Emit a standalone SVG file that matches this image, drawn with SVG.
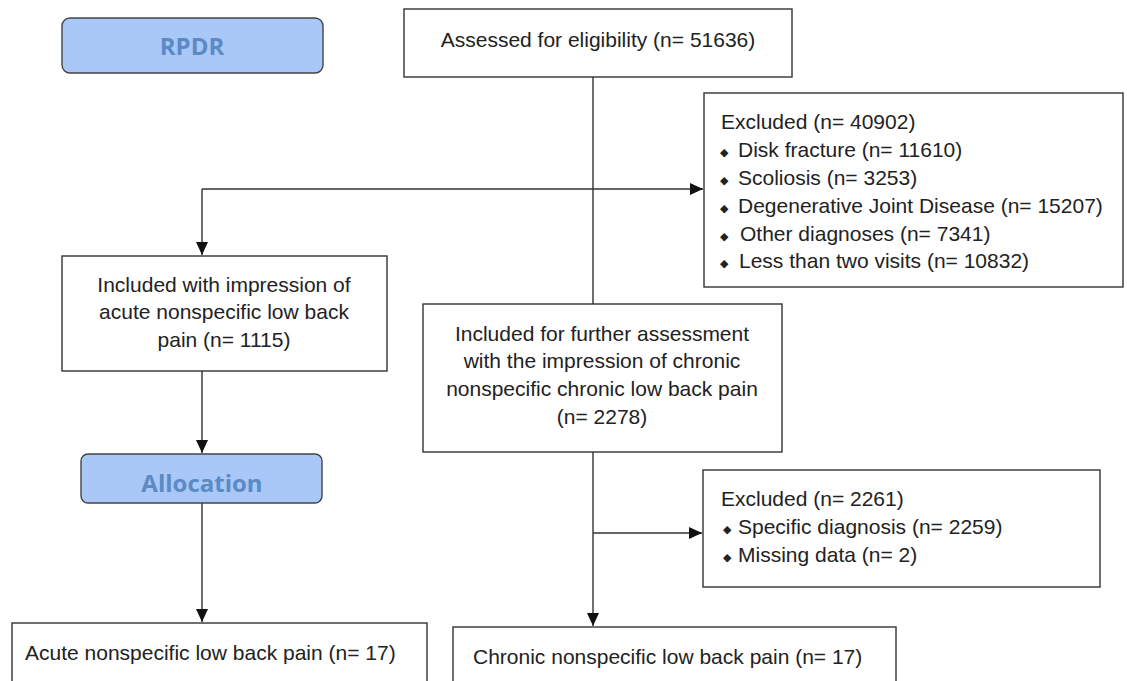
<svg xmlns="http://www.w3.org/2000/svg" width="1127" height="681" viewBox="0 0 1127 681">
<defs>
<marker id="arr" markerUnits="userSpaceOnUse" markerWidth="14" markerHeight="14" viewBox="0 0 14 14" refX="13" refY="7" orient="auto">
<path d="M0,1 L13,7 L0,13 Z" fill="#111"/>
</marker>
<style>
.box{fill:#fff;stroke:#333;stroke-width:1.4}
.blue{fill:#a9c7f7;stroke:#444;stroke-width:1.4}
.t{font-family:"Liberation Sans",Arial,sans-serif;font-size:21px;fill:#222}
.c{text-anchor:middle}
.bt{font-family:"Open Sans","Liberation Sans",sans-serif;font-size:24px;font-weight:bold;fill:#5b8ac4;text-anchor:middle}
.b{font-family:"DejaVu Sans",sans-serif;font-size:11px}
.ln{fill:none;stroke:#333;stroke-width:1.4}
</style>
</defs>
<rect width="1127" height="681" fill="#fff"/>
<g id="connectors">
<path class="ln" d="M593,77 V304"/>
<path class="ln" d="M202,189 H703" marker-end="url(#arr)"/>
<path class="ln" d="M202,189 V255" marker-end="url(#arr)"/>
<path class="ln" d="M202,371 V453" marker-end="url(#arr)"/>
<path class="ln" d="M202,503 V622" marker-end="url(#arr)"/>
<path class="ln" d="M593,452 V626" marker-end="url(#arr)"/>
<path class="ln" d="M593,533 H702" marker-end="url(#arr)"/>
</g>
<g id="rpdr">
<rect class="blue" x="62" y="18" width="261" height="55" rx="8"/>
<text class="bt" x="192" y="55">RPDR</text>
</g>
<g id="assessed">
<rect class="box" x="404" y="9" width="388" height="68"/>
<text class="t c" x="598" y="47">Assessed for eligibility (n= 51636)</text>
</g>
<g id="excluded1">
<rect class="box" x="704" y="93" width="419" height="194"/>
<text class="t" x="721" y="129">Excluded (n= 40902)</text>
<text class="t" y="157"><tspan class="b" x="720" dy="-1">◆</tspan><tspan x="738" dy="1">Disk fracture (n= 11610)</tspan></text>
<text class="t" y="185"><tspan class="b" x="720" dy="-1">◆</tspan><tspan x="738" dy="1">Scoliosis (n= 3253)</tspan></text>
<text class="t" y="213"><tspan class="b" x="720" dy="-1">◆</tspan><tspan x="738" dy="1">Degenerative Joint Disease (n= 15207)</tspan></text>
<text class="t" y="241"><tspan class="b" x="720" dy="-1">◆</tspan><tspan x="740" dy="1">Other diagnoses (n= 7341)</tspan></text>
<text class="t" y="268"><tspan class="b" x="720" dy="-1">◆</tspan><tspan x="739" dy="1">Less than two visits (n= 10832)</tspan></text>
</g>
<g id="acute-included">
<rect class="box" x="62" y="256" width="325" height="115"/>
<text class="t c" x="224" y="292">Included with impression of</text>
<text class="t c" x="224" y="319">acute nonspecific low back</text>
<text class="t c" x="224" y="347">pain (n= 1115)</text>
</g>
<g id="chronic-included">
<rect class="box" x="423" y="304" width="359" height="148"/>
<text class="t c" x="602" y="341">Included for further assessment</text>
<text class="t c" x="602" y="368">with the impression of chronic</text>
<text class="t c" x="602" y="396">nonspecific chronic low back pain</text>
<text class="t c" x="602" y="424">(n= 2278)</text>
</g>
<g id="allocation">
<rect class="blue" x="81" y="454" width="241" height="49" rx="7"/>
<text class="bt" x="202" y="492">Allocation</text>
</g>
<g id="excluded2">
<rect class="box" x="703" y="470" width="397" height="117"/>
<text class="t" x="721" y="506">Excluded (n= 2261)</text>
<text class="t" y="534"><tspan class="b" x="723" dy="-1">◆</tspan><tspan x="738" dy="1">Specific diagnosis (n= 2259)</tspan></text>
<text class="t" y="562"><tspan class="b" x="723" dy="-1">◆</tspan><tspan x="738" dy="1">Missing data (n= 2)</tspan></text>
</g>
<g id="acute-final">
<rect class="box" x="12" y="623" width="415" height="80"/>
<text class="t" x="25" y="660">Acute nonspecific low back pain (n= 17)</text>
</g>
<g id="chronic-final">
<rect class="box" x="453" y="627" width="443" height="80"/>
<text class="t" x="473" y="664">Chronic nonspecific low back pain (n= 17)</text>
</g>
</svg>
